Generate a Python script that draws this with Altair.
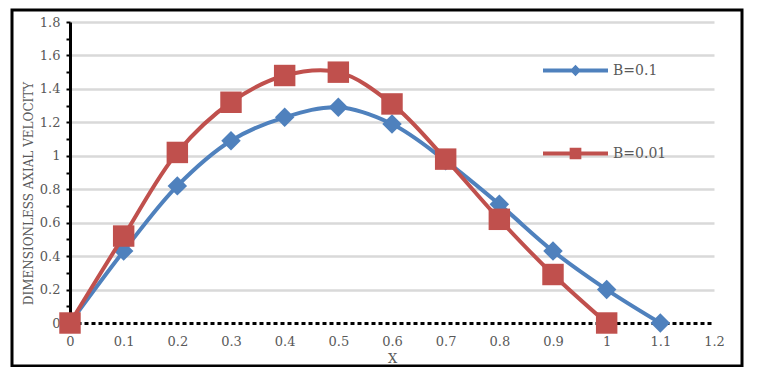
import altair as alt
import pandas as pd

x_vals = [0, 0.1, 0.2, 0.3, 0.4, 0.5, 0.6, 0.7, 0.8, 0.9, 1.0, 1.1]
b_01 = [0, 0.43, 0.82, 1.09, 1.23, 1.29, 1.19, 0.97, 0.71, 0.43, 0.20, 0.0]
x_vals_red = [0, 0.1, 0.2, 0.3, 0.4, 0.5, 0.6, 0.7, 0.8, 0.9, 1.0]
b_001 = [0, 0.52, 1.02, 1.32, 1.48, 1.50, 1.31, 0.98, 0.62, 0.29, 0.0]
series_names = ["B=0.1", "B=0.01"]
colors = ["#4F81BD", "#C0504D"]
x_ticks = [0, 0.1, 0.2, 0.3, 0.4, 0.5, 0.6, 0.7, 0.8, 0.9, 1.0, 1.1, 1.2]
y_ticks = [0, 0.1, 0.2, 0.3, 0.4, 0.5, 0.6, 0.7, 0.8, 0.9, 1.0, 1.1, 1.2, 1.3, 1.4, 1.5, 1.6, 1.7, 1.8]

df_blue = pd.DataFrame({"x": x_vals, "y": b_01, "series": series_names[0]})
df_red = pd.DataFrame({"x": x_vals_red, "y": b_001, "series": series_names[1]})
df_all = pd.concat([df_blue, df_red], ignore_index=True)

FONT = "DejaVu Serif"
LABEL_COLOR = "#595959"

x_enc = alt.X(
    "x:Q",
    scale=alt.Scale(domain=[0, 1.2], nice=False, zero=False),
    axis=alt.Axis(
        values=x_ticks, format="~g", title="X", ticks=False, grid=False,
        domainColor="black", domainWidth=3, domainDash=[4, 3],
        labelFont=FONT, labelFontSize=13, labelColor=LABEL_COLOR, labelPadding=12,
        titleFont=FONT, titleFontSize=13, titleColor=LABEL_COLOR, titleFontWeight="normal",
        titlePadding=4, labelFlush=False,
    ),
)
y_enc = alt.Y(
    "y:Q",
    scale=alt.Scale(domain=[0, 1.8], nice=False),
    axis=alt.Axis(
        values=y_ticks,
        labelExpr="round(datum.value*10) % 2 == 0 ? format(datum.value, '~g') : ''",
        title="DIMENSIONLESS AXIAL VELOCITY",
        grid=True, gridColor="#d9d9d9", gridWidth=2.5,
        gridOpacity={"condition": {"test": "round(datum.value*10) % 2 == 0 && datum.value > 0", "value": 1}, "value": 0},
        domainColor="black", domainWidth=3,
        tickColor="black", tickWidth=2, tickSize=4,
        labelFont=FONT, labelFontSize=13, labelColor=LABEL_COLOR, labelPadding=6,
        titleFont=FONT, titleFontSize=12, titleColor=LABEL_COLOR, titleFontWeight="normal",
        titleX=-42, titleY=171, titleAngle=270, titleBaseline="middle", titleAlign="center",
        labelFlush=False,
    ),
)

def series_layers(df, color, shape, size):
    base = alt.Chart(df)
    line = base.mark_line(color=color, strokeWidth=4, interpolate="catmull-rom").encode(x=x_enc, y=y_enc)
    pts = base.mark_point(filled=True, color=color, shape=shape, size=size, opacity=1).encode(x=x_enc, y=y_enc)
    return [line, pts]

# legend symbols: line with marker (unit box paths)
leg_diamond = "M-1,-0.065L1,-0.065L1,0.065L-1,0.065Z M-0.17,0L0,-0.18L0.17,0L0,0.18Z"
leg_square = "M-1,-0.065L1,-0.065L1,0.065L-1,0.065Z M-0.18,-0.18L0.18,-0.18L0.18,0.18L-0.18,0.18Z"

legend_layer = alt.Chart(df_all).transform_filter("false").mark_point(filled=True, opacity=1).encode(
    color=alt.Color("series:N", scale=alt.Scale(domain=series_names, range=colors),
                    legend=alt.Legend(title=None, orient="none", legendX=473, legendY=16,
                                      direction="vertical", symbolSize=4225, symbolStrokeWidth=0,
                                      labelFont=FONT, labelFontSize=14, labelColor=LABEL_COLOR,
                                      labelOffset=5, rowPadding=43, symbolOpacity=1)),
    shape=alt.Shape("series:N", scale=alt.Scale(domain=series_names, range=[leg_diamond, leg_square])),
)

border = alt.Chart(df_all).mark_rect(fill=None, stroke="black", strokeWidth=3).encode(
    x=alt.value(-58), x2=alt.value(672), y=alt.value(-12), y2=alt.value(344)
).transform_filter("datum.x == 0 && datum.series == 'B=0.1'")

layers = series_layers(df_blue, colors[0], "diamond", 380) + series_layers(df_red, colors[1], "square", 460)
chart = alt.layer(border, *layers, legend_layer).properties(
    width=644, height=301,
    autosize=alt.AutoSizeParams(type="none"),
    padding={"left": 62, "top": 14, "right": 35, "bottom": 44},
    background="white",
).configure_view(stroke=None)

chart.save("out.html", embed_options={"renderer": "svg", "actions": False})
